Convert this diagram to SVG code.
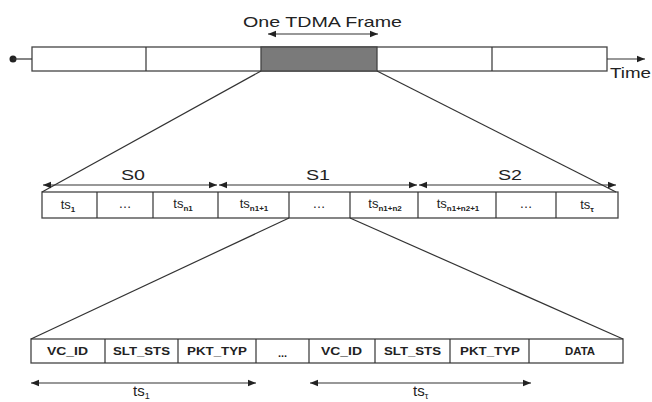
<svg xmlns="http://www.w3.org/2000/svg" width="652" height="402" viewBox="0 0 652 402">
<defs>
<marker id="ahb" viewBox="0 0 10 10" refX="10" refY="5" markerWidth="14" markerHeight="8" markerUnits="userSpaceOnUse" orient="auto-start-reverse">
<path d="M0,1 L10,5 L0,9 Z" fill="#222"/>
</marker>
</defs>
<style>
.box{fill:#fff;stroke:#444;stroke-width:1.3}
.ln{stroke:#333;stroke-width:1.2;fill:none}
.t{font-family:"Liberation Sans",Arial,sans-serif;fill:#222}
.big{font-size:15px}
.cell{font-size:11px;font-weight:bold}
.ts{font-size:13px;text-anchor:middle}
.sub{font-size:8px;font-weight:bold}
</style>
<rect width="652" height="402" fill="#fff"/>
<g id="frame-bar">
<rect class="box" x="32" y="47" width="575" height="24"/>
<rect x="261" y="47" width="116" height="24" fill="#7a7a7a" stroke="#444" stroke-width="1.3"/>
<line class="ln" x1="146" y1="47" x2="146" y2="71"/>
<line class="ln" x1="492" y1="47" x2="492" y2="71"/>
<circle cx="13" cy="59" r="3.5" fill="#222"/>
<text class="t big" x="610" y="78" textLength="41" lengthAdjust="spacingAndGlyphs">Time</text>
<text class="t big" x="243" y="27" textLength="159" lengthAdjust="spacingAndGlyphs">One TDMA Frame</text>
</g>
<g id="mid-row">
<rect class="box" x="42" y="192" width="576" height="26"/>
<line class="ln" x1="97" y1="192" x2="97" y2="218"/>
<line class="ln" x1="153" y1="192" x2="153" y2="218"/>
<line class="ln" x1="218" y1="192" x2="218" y2="218"/>
<line class="ln" x1="289" y1="192" x2="289" y2="218"/>
<line class="ln" x1="350" y1="192" x2="350" y2="218"/>
<line class="ln" x1="418" y1="192" x2="418" y2="218"/>
<line class="ln" x1="496" y1="192" x2="496" y2="218"/>
<line class="ln" x1="556" y1="192" x2="556" y2="218"/>
<text class="t ts" x="68" y="209">ts<tspan class="sub" dy="3">1</tspan></text>
<text class="t ts" x="125" y="208">…</text>
<text class="t ts" x="183" y="208">ts<tspan class="sub" dy="3">n1</tspan></text>
<text class="t ts" x="254" y="208">ts<tspan class="sub" dy="3">n1+1</tspan></text>
<text class="t ts" x="319" y="208">…</text>
<text class="t ts" x="385" y="208">ts<tspan class="sub" dy="3">n1+n2</tspan></text>
<text class="t ts" x="458" y="208">ts<tspan class="sub" dy="3">n1+n2+1</tspan></text>
<text class="t ts" x="526" y="208">…</text>
<text class="t ts" x="587" y="209">ts<tspan class="sub" dy="3">τ</tspan></text>
<text class="t big" x="121" y="180" textLength="24" lengthAdjust="spacingAndGlyphs">S0</text>
<text class="t big" x="306" y="180" textLength="24" lengthAdjust="spacingAndGlyphs">S1</text>
<text class="t big" x="498" y="180" textLength="24" lengthAdjust="spacingAndGlyphs">S2</text>
</g>
<g id="bottom-row">
<rect class="box" x="31" y="339" width="592" height="24"/>
<line class="ln" x1="105" y1="339" x2="105" y2="363"/>
<line class="ln" x1="178" y1="339" x2="178" y2="363"/>
<line class="ln" x1="256" y1="339" x2="256" y2="363"/>
<line class="ln" x1="309" y1="339" x2="309" y2="363"/>
<line class="ln" x1="375" y1="339" x2="375" y2="363"/>
<line class="ln" x1="450" y1="339" x2="450" y2="363"/>
<line class="ln" x1="529" y1="339" x2="529" y2="363"/>
<text class="t cell" x="47" y="355" textLength="41" lengthAdjust="spacingAndGlyphs">VC_ID</text>
<text class="t cell" x="113" y="355" textLength="57" lengthAdjust="spacingAndGlyphs">SLT_STS</text>
<text class="t cell" x="187" y="355" textLength="60" lengthAdjust="spacingAndGlyphs">PKT_TYP</text>
<text class="t cell" x="282.5" y="357" font-size="15" text-anchor="middle">...</text>
<text class="t cell" x="321" y="355" textLength="41" lengthAdjust="spacingAndGlyphs">VC_ID</text>
<text class="t cell" x="384" y="355" textLength="57" lengthAdjust="spacingAndGlyphs">SLT_STS</text>
<text class="t cell" x="460" y="355" textLength="60" lengthAdjust="spacingAndGlyphs">PKT_TYP</text>
<text class="t cell" x="565" y="355" textLength="30" lengthAdjust="spacingAndGlyphs">DATA</text>
<text class="t" x="133" y="396" font-size="15">ts<tspan font-size="9" dy="3">1</tspan></text>
<text class="t" x="413" y="396" font-size="15">ts<tspan font-size="9" dy="3">τ</tspan></text>
</g>
<g id="connectors">
<line class="ln" x1="32" y1="59" x2="13" y2="59"/>
<line class="ln" x1="607" y1="59" x2="645" y2="59" marker-end="url(#ahb)"/>
<line class="ln" x1="268" y1="34" x2="378" y2="34" marker-start="url(#ahb)" marker-end="url(#ahb)"/>
<line class="ln" x1="261" y1="71" x2="42" y2="192"/>
<line class="ln" x1="377" y1="71" x2="616" y2="192"/>
<line class="ln" x1="43" y1="185" x2="217" y2="185" marker-start="url(#ahb)" marker-end="url(#ahb)"/>
<line class="ln" x1="219" y1="185" x2="417" y2="185" marker-start="url(#ahb)" marker-end="url(#ahb)"/>
<line class="ln" x1="419" y1="185" x2="616" y2="185" marker-start="url(#ahb)" marker-end="url(#ahb)"/>
<line class="ln" x1="289" y1="218" x2="31" y2="339"/>
<line class="ln" x1="350" y1="218" x2="623" y2="339"/>
<line class="ln" x1="31" y1="383" x2="256" y2="383" marker-start="url(#ahb)" marker-end="url(#ahb)"/>
<line class="ln" x1="310" y1="383" x2="531" y2="383" marker-start="url(#ahb)" marker-end="url(#ahb)"/>
</g>
</svg>
